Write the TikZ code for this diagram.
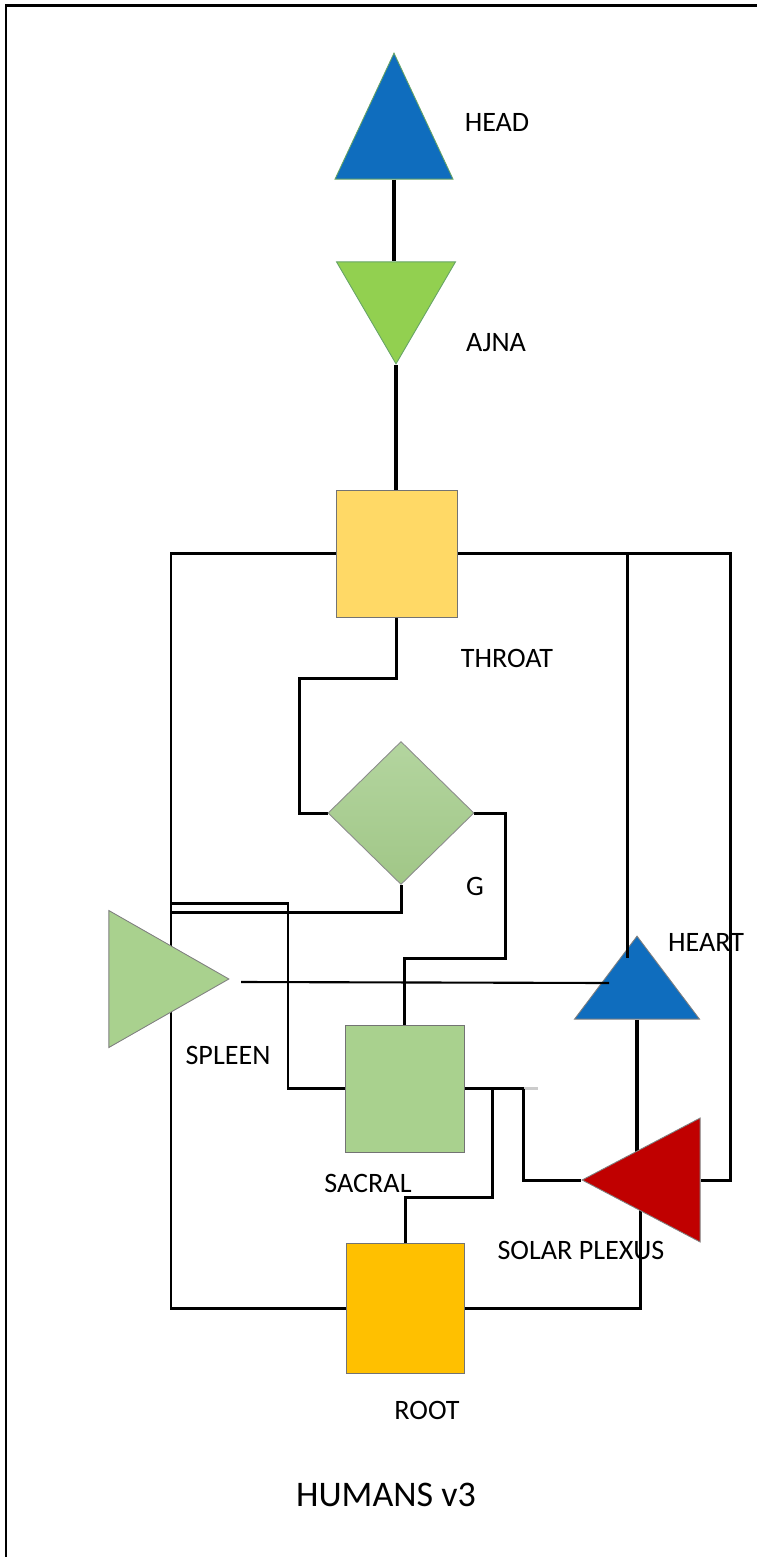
\documentclass[tikz,border=0pt]{standalone}
\usepackage{fontspec}
\setmainfont{Carlito}
\usetikzlibrary{shapes.geometric, calc, backgrounds}
\definecolor{chblue}{HTML}{0F6DBE}
\definecolor{chlime}{HTML}{92D050}
\definecolor{chgreen}{HTML}{A9D18E}
\definecolor{chgold}{HTML}{FFD966}
\definecolor{chamber}{HTML}{FFC000}
\definecolor{chred}{HTML}{C00000}
\begin{document}
\begin{tikzpicture}[x=0.02cm, y=-0.02cm,
  box/.style={draw=black!55, line width=0.5pt, inner sep=0pt},
  tri/.style={isosceles triangle, isosceles triangle stretches, draw=black!50, line width=0.5pt, inner sep=0pt},
  lab/.style={font=\fontsize{16}{18}\selectfont},
  wire/.style={line width=1.7pt}]
\useasboundingbox (0,0) rectangle (757,1557);
\draw[line width=1.7pt] (6,1557) -- (6,6) -- (757,6);

% centres
\node[tri, shape border rotate=90, fill=chblue, draw=green!40!black!60, minimum width=2.36cm, minimum height=2.52cm, anchor=apex] (head) at (394,52) {};
\node[tri, shape border rotate=270, fill=chlime, draw=green!40!black!60, minimum width=2.38cm, minimum height=2.04cm, anchor=apex] (ajna) at (396,365) {};
\node[box, fill=chgold, minimum width=2.42cm, minimum height=2.54cm, anchor=north west] (throat) at (336,490) {};
\node[diamond, draw=black!45, line width=0.5pt, inner sep=0pt, top color=green!30!black!5!chgreen!80, bottom color=chgreen!95!black, minimum width=2.92cm, minimum height=2.86cm] (g) at (401,813) {};
\node[tri, shape border rotate=0, fill=chgreen, minimum width=2.74cm, minimum height=2.4cm, anchor=apex] (spleen) at (230,979) {};
\node[tri, shape border rotate=90, fill=chblue, minimum width=2.5cm, minimum height=1.66cm, anchor=apex] (heart) at (637,935) {};
\node[box, fill=chgreen, minimum width=2.38cm, minimum height=2.54cm, anchor=north west] (sacral) at (345,1025) {};
\node[tri, shape border rotate=180, fill=chred, minimum width=2.48cm, minimum height=2.36cm, anchor=apex] (solar) at (581,1180) {};
\node[box, fill=chamber, minimum width=2.36cm, minimum height=2.6cm, anchor=north west] (root) at (346,1243) {};

% labels
\node[lab] (headlab) at (497,122) {HEAD};
\node[lab] (ajnalab) at (496,343) {AJNA};
\node[lab] (throatlab) at (507,658) {THROAT};
\node[lab] (glab) at (475,886) {G};
\node[lab] (heartlab) at (706,942) {HEART};
\node[lab] (spleenlab) at (228,1055) {SPLEEN};
\node[lab] (sacrallab) at (368,1183) {SACRAL};
\node[lab] (solarlab) at (581,1250) {SOLAR PLEXUS};
\node[lab] (rootlab) at (427,1410) {ROOT};
\node[font=\fontsize{20.5}{24}\selectfont] (title) at (386,1495) {HUMANS v3};

% connectors
\coordinate (lbus) at (171,980);
\coordinate (hrt) at (627,958);
\coordinate (spc) at ($(solar.apex)!0.5!(solar.lower side)$);
\begin{scope}[on background layer]
\draw[line width=2.3pt] (head.lower side) -- (head.lower side |- ajna.lower side);
\draw[line width=2.3pt] (ajna.apex) -- (ajna.apex |- throat.north);
\draw[wire] (throat.west) -| (lbus) |- (root.west);
\draw[wire] (throat.east) -| ($(solar.lower side)+(30,0)$) -- (solar.lower side);
\draw[wire] (throat.south) -- ++(0,61) -| ($(g.west)+(-28,0)$) -- (g.west);
\draw[wire] (g.east) -| ($(sacral.north)+(101,-67)$) -| (sacral.north);
\draw[wire] (g.south) |- ($(g.south -| lbus)+(0,28)$);
\draw[wire] ($(g.south -| lbus)+(0,19)$) -| ($(sacral.west)+(-57,0)$) -- (sacral.west);
\draw[line width=2.3pt] (heart.lower side) -- (heart.lower side |- spc);
\draw[wire] (spc) |- (root.east);
\draw[wire] (sacral.east) -- ++(59,0);
\draw[wire, black!20] ($(sacral.east)+(59,0)$) -- ++(14,0);
\draw[wire] ($(sacral.east)+(59,0)$) |- (solar.apex);
\draw[wire] ($(sacral.east)+(28,0)$) |- ($(root.north)+(0,-46)$) -- (root.north);
\end{scope}
\draw[wire] (throat.east -| hrt) -- (hrt);
\draw[line width=1.2pt] ($(spleen.apex)+(11,3)$) -- ($(heart.apex)+(-28,48)$);
\end{tikzpicture}
\end{document}
